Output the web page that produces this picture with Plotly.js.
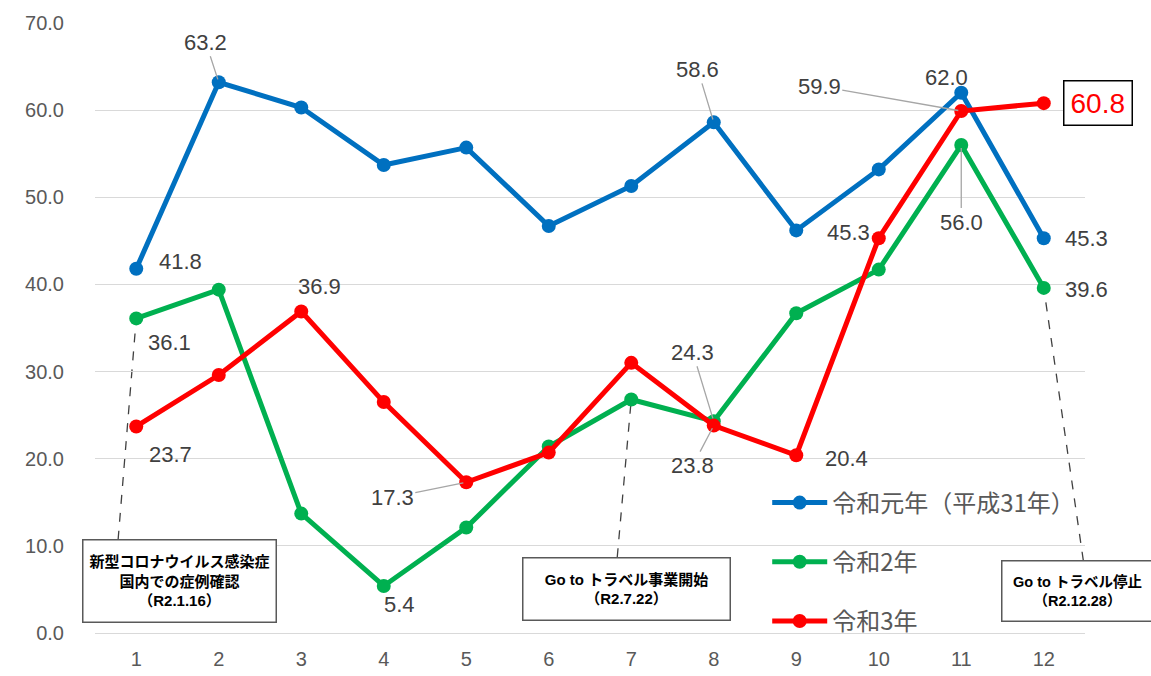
<!DOCTYPE html>
<html>
<head>
<meta charset="utf-8">
<script src="https://cdn.plot.ly/plotly-3.0.1.min.js"></script>
<style>
  body { margin: 0; background: #fff; }
  #chart { width: 1151px; height: 676px; }
</style>
</head>
<body>
<div id="chart"></div>
<script>
// months 1..12
var months = [1, 2, 3, 4, 5, 6, 7, 8, 9, 10, 11, 12];

// values
var r1 = [41.8, 63.2, 60.3, 53.7, 55.7, 46.7, 51.3, 58.6, 46.2, 53.2, 62.0, 45.3];
var r2 = [36.1, 39.4, 13.7, 5.4, 12.1, 21.4, 26.8, 24.3, 36.7, 41.7, 56.0, 39.6];
var r3 = [23.7, 29.6, 36.9, 26.5, 17.3, 20.7, 31.0, 23.8, 20.4, 45.3, 59.9, 60.8];

var names = ["令和元年（平成31年）", "令和2年", "令和3年"];
var colors = ["#0070C0", "#00B050", "#FF0000"];

var jp = "Liberation Sans, Arial, Noto Sans CJK JP, sans-serif";
var gray = "#595959";

var data = [r1, r2, r3].map(function (ys, i) {
  return {
    x: months,
    y: ys,
    name: names[i],
    legendgroup: "g" + i,
    type: "scatter",
    mode: "lines+markers",
    line: {color: colors[i], width: 5},
    marker: {color: colors[i], size: 14},
    cliponaxis: false
  };
});

// plain value labels: [series, index, xshift, yshift]
var plain = [
  [r1, 0, 44, 7], [r1, 11, 43, 0], [r1, 10, -15, 15],
  [r2, 0, 33, -24], [r2, 3, 16, -19], [r2, 11, 43, -2],
  [r3, 0, 34, -28], [r3, 2, 18, 25], [r3, 8, 50, -3], [r3, 9, -30, 6]
];
// labels with leader line: [series, index, ax, ay]
var lead = [
  [r1, 1, -13, -40], [r1, 7, -16, -53],
  [r2, 7, -21, -69], [r2, 10, 0, 77],
  [r3, 4, -74, 15], [r3, 7, -21, 40], [r3, 10, -142, -25]
];

var ann = [];
plain.forEach(function (p) {
  ann.push({
    x: p[1] + 1, y: p[0][p[1]], xref: "x", yref: "y",
    text: p[0][p[1]].toFixed(1), showarrow: false,
    xshift: p[2], yshift: p[3],
    font: {family: jp, size: 22, color: "#404040"}
  });
});
lead.forEach(function (p) {
  ann.push({
    x: p[1] + 1, y: p[0][p[1]], xref: "x", yref: "y",
    text: p[0][p[1]].toFixed(1), showarrow: true,
    arrowhead: 0, arrowwidth: 1.3, arrowcolor: "#a6a6a6",
    ax: p[2], ay: p[3], standoff: 3,
    font: {family: jp, size: 22, color: "#404040"}
  });
});
// boxed final value
ann.push({
  x: 12, y: r3[11], xref: "x", yref: "y",
  text: r3[11].toFixed(1), showarrow: false, xshift: 54,
  font: {family: jp, size: 28, color: "#FF0000"},
  bordercolor: "#000", borderwidth: 1.5, borderpad: 6, bgcolor: "#fff"
});

// event boxes
var boxFont = {family: "Liberation Sans, Arial, Noto Sans CJK JP, sans-serif", size: 15, color: "#000", weight: "bold"};
ann.push({
  x: 1.52, y: 5.97, xref: "x", yref: "y", showarrow: false,
  text: "<b>新型コロナウイルス感染症<br>国内での症例確認<br>（R2.1.16）</b>",
  font: boxFont, width: 188, height: 77, bgcolor: "#fff",
  bordercolor: gray, borderwidth: 1.5, borderpad: 2
});
ann.push({
  x: 6.94, y: 5.05, xref: "x", yref: "y", showarrow: false,
  text: "<b>Go to トラベル事業開始<br>（R2.7.22）</b>",
  font: boxFont, width: 202, height: 57, bgcolor: "#fff",
  bordercolor: gray, borderwidth: 1.5, borderpad: 2
});
ann.push({
  x: 11.48, y: 4.8, xref: "x", yref: "y", xanchor: "left", showarrow: false,
  text: "<b>Go to トラベル停止<br>（R2.12.28）</b>",
  font: {family: boxFont.family, size: 14.5, color: "#000", weight: "bold"},
  width: 146, height: 55, bgcolor: "#fff",
  bordercolor: gray, borderwidth: 1.5, borderpad: 2
});

// dashed connectors from boxes to the 令和2年 points
var shapes = [
  [0.78, 10.7, 0], [6.83, 8.7, 6], [12.48, 8.3, 11]
].map(function (s) {
  return {
    type: "line", xref: "x", yref: "y", layer: "below",
    x0: s[0], y0: s[1], x1: s[2] + 1, y1: r2[s[2]],
    line: {color: "#404040", width: 1.3, dash: "dash"}
  };
});

var layout = {
  width: 1151, height: 676,
  margin: {l: 95, r: 66, t: 23, b: 43},
  paper_bgcolor: "#fff", plot_bgcolor: "#fff",
  font: {family: jp, color: gray},
  xaxis: {
    range: [0.5, 12.5], tickvals: months, showgrid: false,
    showline: true, linecolor: "#d9d9d9", linewidth: 1,
    zeroline: false, ticks: "", ticklabelstandoff: 8,
    tickfont: {size: 20, color: gray}
  },
  yaxis: {
    range: [0, 70], dtick: 10, tickformat: ".1f",
    gridcolor: "#d9d9d9", gridwidth: 1, zeroline: false,
    ticks: "", ticklabelstandoff: 30,
    tickfont: {size: 20, color: gray}
  },
  showlegend: true,
  legend: {
    x: 0.679, y: 0.25, xanchor: "left", yanchor: "top",
    bgcolor: "rgba(0,0,0,0)", tracegroupgap: 25, itemwidth: 55,
    font: {size: 24, color: gray, family: "Noto Sans CJK JP, sans-serif"}
  },
  annotations: ann,
  shapes: shapes
};

Plotly.newPlot("chart", data, layout, {displayModeBar: false, staticPlot: true});
</script>
</body>
</html>
